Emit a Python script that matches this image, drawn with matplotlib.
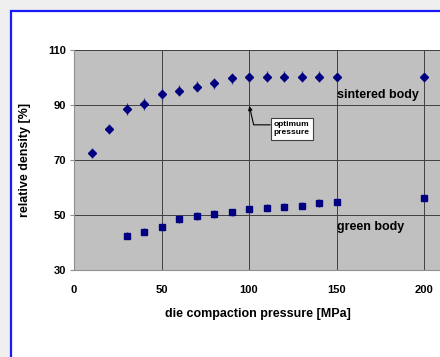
import matplotlib.pyplot as plt
from matplotlib.patches import Rectangle

plt.rcParams['font.family'] = ['Liberation Sans', 'DejaVu Sans']

# sintered body (diamonds)
sint_x = [10, 20, 30, 40, 50, 60, 70, 80, 90, 100, 110, 120, 130, 140, 150, 200]
sint_y = [72.6, 81.0, 88.5, 90.3, 93.9, 95.1, 96.5, 97.8, 99.5, 99.9, 100.1, 100.1, 100.1, 100.1, 100.1, 100.1]
sint_err = [1.8, 1.8, 2.2, 2.2, 2.2, 2.0, 2.0, 2.0, 2.0, 2.0, 2.0, 2.0, 2.0, 2.0, 1.8, 1.8]

# green body (squares)
green_x = [30, 40, 50, 60, 70, 80, 90, 100, 110, 120, 130, 140, 150, 200]
green_y = [42.4, 43.9, 45.6, 48.5, 49.6, 50.3, 51.0, 52.0, 52.6, 53.0, 53.3, 54.3, 54.6, 56.1]
green_err = [1.3] * len(green_x)

xticks = [0, 50, 100, 150, 200]
yticks = [30, 50, 70, 90, 110]

fig = plt.figure(figsize=(4.4, 3.57), dpi=100)
fig.patch.set_facecolor('#efefef')
# white panel with blue frame (cut off at right and bottom)
fig.patches.append(Rectangle((11/440, -0.2), 2.0, 1.2 - 11/357, transform=fig.transFigure,
                             facecolor='white', edgecolor='#1a1aff', lw=1.6, zorder=-10))

ax = fig.add_axes([74/440, 87/357, 367.5/440, 220.5/357])
ax.set_zorder(1)
ax.set_facecolor('#c0c0c0')
ax.set_xlim(0, 210)
ax.set_ylim(30, 110)
ax.set_xticks(xticks)
ax.set_yticks(yticks)
ax.grid(True, color='#404040', lw=0.7)
ax.set_axisbelow(True)
for s in ['top', 'right']:
    ax.spines[s].set_visible(False)
for s in ['left', 'bottom']:
    ax.spines[s].set_color('#909090')
    ax.spines[s].set_linewidth(0.8)
ax.tick_params(axis='y', length=3, color='#909090', labelsize=8, pad=3)
ax.tick_params(axis='x', length=0, labelsize=8, pad=11)
for lab in ax.get_xticklabels() + ax.get_yticklabels():
    lab.set_fontweight('bold')

ax.errorbar(sint_x, sint_y, yerr=sint_err, fmt='D', color='#000080', ms=4,
            ecolor='#3c3c8c', elinewidth=0.9, capsize=0, clip_on=False)
ax.errorbar(green_x, green_y, yerr=green_err, fmt='s', color='#000080', ms=4.4,
            ecolor='#3c3c8c', elinewidth=0.9, capsize=0, clip_on=False)

ax.text(150.5, 93.5, 'sintered body', fontsize=9, fontweight='bold', va='center', ha='left')
ax.text(150.5, 45.6, 'green body', fontsize=9, fontweight='bold', va='center', ha='left')

ax.annotate('optimum\npressure', xy=(100, 90), xytext=(124.5, 81.2),
            fontsize=6, fontweight='bold', ha='center', va='center',
            bbox=dict(boxstyle='square,pad=0.4', fc='white', ec='#404040', lw=0.8),
            arrowprops=dict(arrowstyle='-|>', color='black', lw=0.8, mutation_scale=6,
                            relpos=(0, 0.77), shrinkA=0, shrinkB=1,
                            connectionstyle='angle,angleA=0,angleB=103,rad=0'))

ax.set_xlabel('die compaction pressure [MPa]', fontsize=9, fontweight='bold', labelpad=9)
ax.set_ylabel('relative density [%]', fontsize=9, fontweight='bold', labelpad=12)

fig.savefig('out.png', dpi=100)
